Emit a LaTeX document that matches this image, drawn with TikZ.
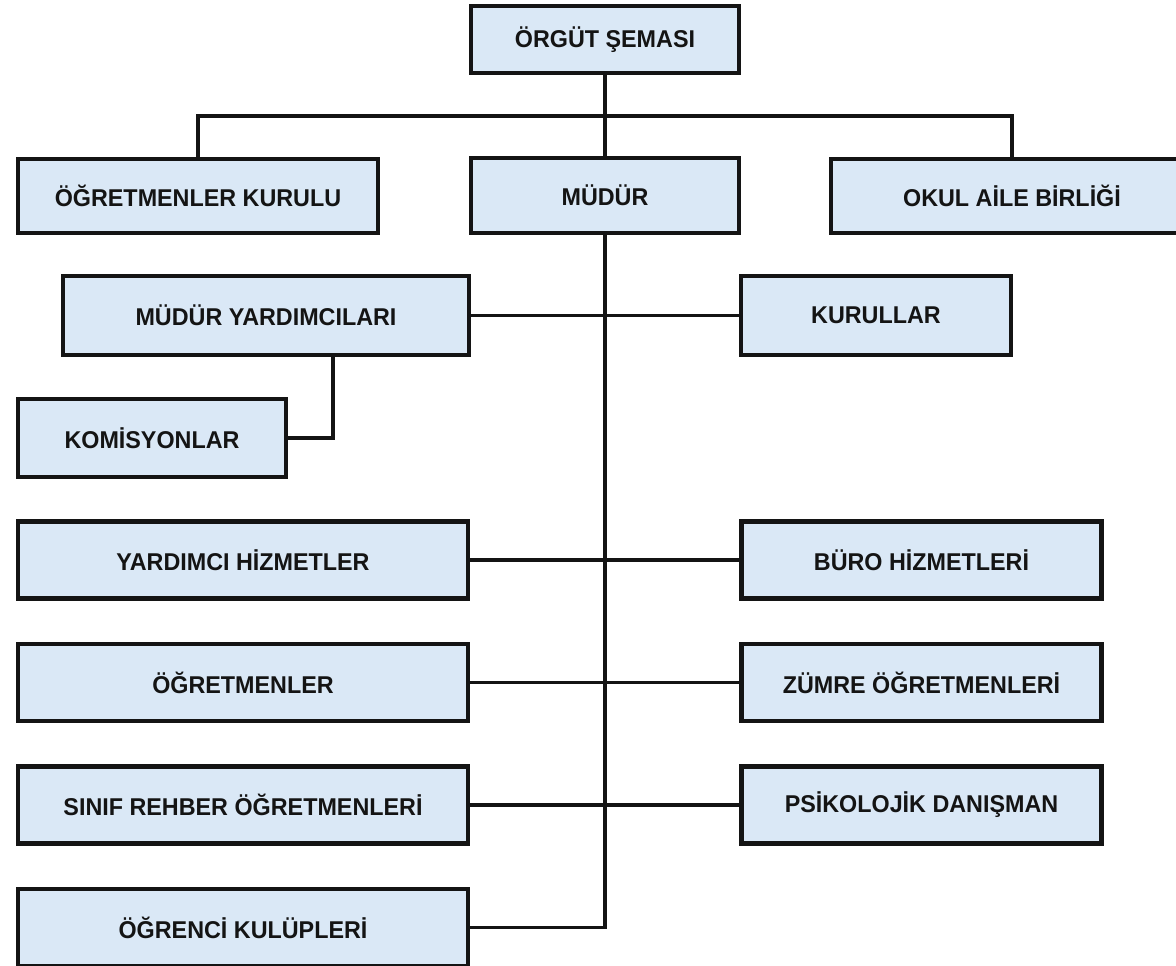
\documentclass[tikz,border=0pt]{standalone}
\usepackage{fontspec}
\setmainfont{Liberation Sans}[FakeStretch=0.96]
\usepackage{tikz}
\usetikzlibrary{positioning}
\definecolor{boxblue}{RGB}{218,232,246}
\definecolor{ink}{RGB}{20,20,20}

\begin{document}
\begin{tikzpicture}[
  x=1pt, y=-1pt,
  node distance=41pt and 269pt,
  box/.style={rectangle, draw=ink, line width=4.5pt, fill=boxblue, text=ink, font=\fontsize{24.3}{28}\selectfont\bfseries, inner sep=0pt, minimum width=450pt, minimum height=77pt},
  link/.style={draw=ink, line width=3.5pt}]

\useasboundingbox (0,0) rectangle (1176,966);
\clip (0,0) rectangle (1176,966);

\node[box, minimum width=268pt, minimum height=67pt] (sema) at (605,39.5) {ÖRGÜT ŞEMASI};

\node[box, minimum width=268pt, minimum height=75pt] (mudur) at (605,195.5) {MÜDÜR};
\node[box, minimum width=360pt, minimum height=74pt] (ogrkurul) at (198,196) {ÖĞRETMENLER KURULU};
\node[box, minimum width=362pt, minimum height=74pt] (okul) at (1012,196) {OKUL AİLE BİRLİĞİ};

\node[box, minimum width=406pt, minimum height=79pt] (myard) at (266,315.5) {MÜDÜR YARDIMCILARI};
\node[box, minimum width=270pt, minimum height=79pt] (kurullar) at (876,315.5) {KURULLAR};
\node[box, minimum width=268pt, minimum height=78pt] (komisyon) at (152,438) {KOMİSYONLAR};

\node[box] (yardimci) at (243,560) {YARDIMCI HİZMETLER};
\node[box, below=of yardimci] (ogretmen) {ÖĞRETMENLER};
\node[box, below=of ogretmen] (sinif) {SINIF REHBER ÖĞRETMENLERİ};
\node[box, below=of sinif] (kulup) {ÖĞRENCİ KULÜPLERİ};

\node[box, minimum width=360pt, right=of yardimci] (buro) {BÜRO HİZMETLERİ};
\node[box, minimum width=360pt, right=of ogretmen] (zumre) {ZÜMRE ÖĞRETMENLERİ};
\node[box, minimum width=360pt, right=of sinif] (psiko) {PSİKOLOJİK DANIŞMAN};

% Connectors
\coordinate (bus) at (605,116);
\draw[link] (sema) -- (mudur);
\draw[link] (ogrkurul.north) |- (bus) -| (okul.north);
\draw[link] (mudur.south) |- (kulup.east);
\draw[link] (myard) -- (kurullar);
\draw[link] ([xshift=67pt]myard.south) |- (komisyon.east);
\draw[link] (yardimci) -- (buro);
\draw[link] (ogretmen) -- (zumre);
\draw[link] (sinif) -- (psiko);

\end{tikzpicture}
\end{document}
